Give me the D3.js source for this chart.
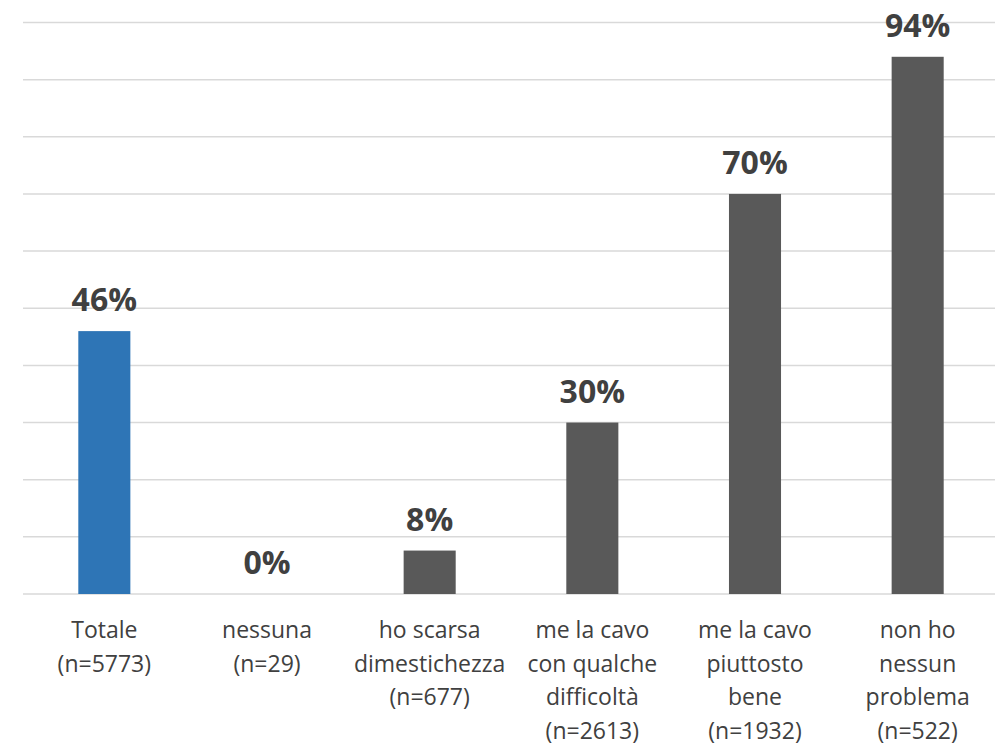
<!DOCTYPE html>
<html>
<head>
<meta charset="utf-8">
<script src="https://cdn.jsdelivr.net/npm/d3@7"></script>
<style>
  body { margin: 0; background: #fff; }
  svg { display: block; }
</style>
</head>
<body>
<svg width="995" height="744"></svg>
<script>
// categories (each line of the label is an array entry)
const categories = [
  ["Totale", "(n=5773)"],
  ["nessuna", "(n=29)"],
  ["ho scarsa", "dimestichezza", "(n=677)"],
  ["me la cavo", "con qualche", "difficoltà", "(n=2613)"],
  ["me la cavo", "piuttosto", "bene", "(n=1932)"],
  ["non ho", "nessun", "problema", "(n=522)"]
];
const values = [46, 0, 7.6, 30, 70, 94];
const valueLabels = ["46%", "0%", "8%", "30%", "70%", "94%"];
const yTicks = [0, 10, 20, 30, 40, 50, 60, 70, 80, 90, 100];

const svg = d3.select("svg");
// plot area
const plotLeft = 23, plotRight = 999, plotTop = 22.5, plotBottom = 594;

const x = d3.scaleBand()
  .domain(categories.map((c, i) => i))
  .range([plotLeft, plotRight])
  .paddingInner(0.68)
  .paddingOuter(0.34);

const y = d3.scaleLinear().domain([0, 100]).range([plotBottom, plotTop]);

// gridlines
svg.append("g")
  .selectAll("line")
  .data(yTicks)
  .join("line")
  .attr("x1", plotLeft).attr("x2", plotRight)
  .attr("y1", d => y(d)).attr("y2", d => y(d))
  .attr("stroke", "#d9d9d9")
  .attr("stroke-width", 1.5);

// bars
svg.append("g")
  .selectAll("rect")
  .data(values)
  .join("rect")
  .attr("x", (d, i) => x(i))
  .attr("width", x.bandwidth())
  .attr("y", d => y(d))
  .attr("height", d => y(0) - y(d))
  .attr("fill", (d, i) => i === 0 ? "#2e75b6" : "#595959");

// value labels
svg.append("g")
  .selectAll("text")
  .data(values)
  .join("text")
  .attr("x", (d, i) => x(i) + x.bandwidth() / 2)
  .attr("y", d => y(d) - 20)
  .attr("text-anchor", "middle")
  .attr("font-family", "'Open Sans', sans-serif")
  .attr("font-weight", "bold")
  .attr("font-size", 32)
  .attr("fill", "#404040")
  .text((d, i) => valueLabels[i]);

// category labels
const cat = svg.append("g")
  .selectAll("text")
  .data(categories)
  .join("text")
  .attr("text-anchor", "middle")
  .attr("font-family", "'Open Sans', sans-serif")
  .attr("font-size", 23)
  .attr("fill", "#404040");

cat.selectAll("tspan")
  .data((d, i) => d.map(line => ({line, i})))
  .join("tspan")
  .attr("x", d => x(d.i) + x.bandwidth() / 2)
  .attr("y", (d, j) => 638 + j * 33.5)
  .text(d => d.line);
</script>
</body>
</html>
